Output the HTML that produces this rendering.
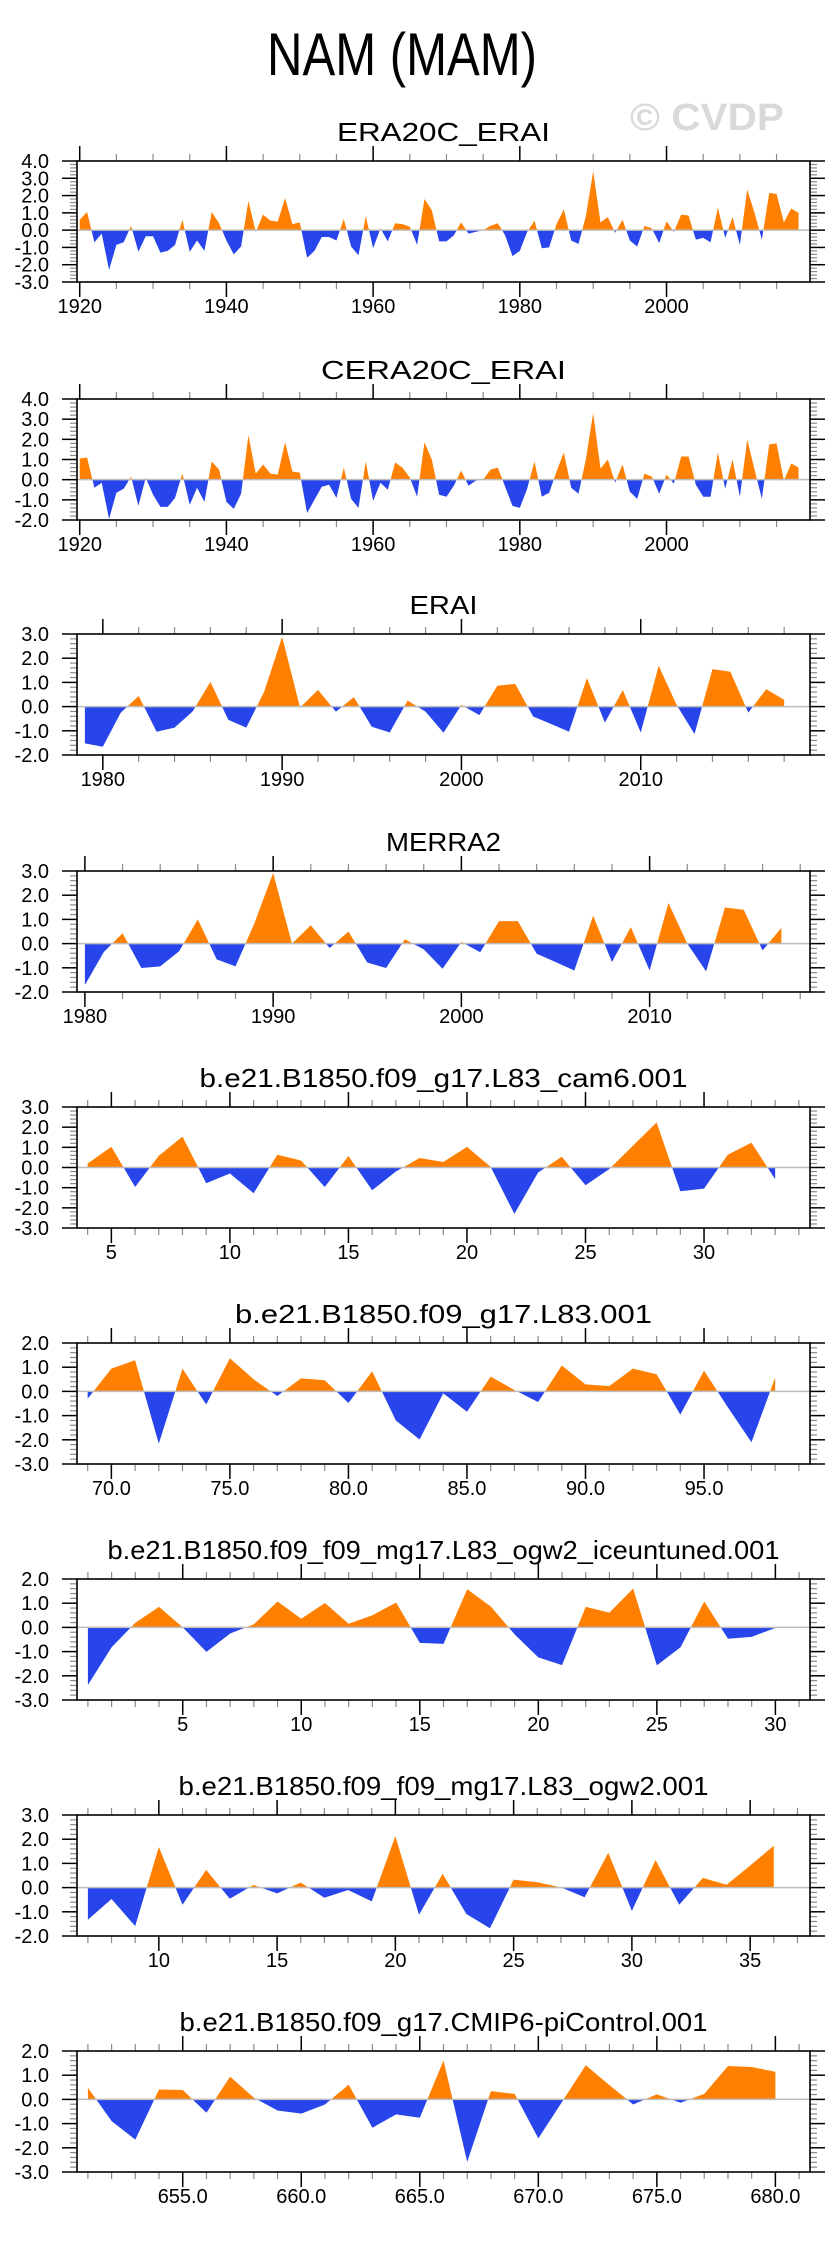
<!DOCTYPE html>
<html><head><meta charset="utf-8"><title>NAM (MAM)</title>
<style>
html,body{margin:0;padding:0;background:#fff;}
svg{display:block;font-family:"Liberation Sans",Arial,sans-serif;}
</style></head>
<body>
<svg id="chart" xmlns="http://www.w3.org/2000/svg" width="829" height="2245" viewBox="0 0 829 2245">
<rect width="829" height="2245" fill="#fff"/>
<text x="402" y="75" font-size="60" text-anchor="middle" textLength="270" lengthAdjust="spacingAndGlyphs" fill="#000">NAM (MAM)</text>
<text x="707" y="130" font-size="38" font-weight="bold" text-anchor="middle" textLength="154" lengthAdjust="spacingAndGlyphs" fill="#d9d9d9">© CVDP</text>
</svg>
<script>
// ---- data ----
const titles = ["ERA20C_ERAI","CERA20C_ERAI","ERAI","MERRA2","b.e21.B1850.f09_g17.L83_cam6.001","b.e21.B1850.f09_g17.L83.001","b.e21.B1850.f09_f09_mg17.L83_ogw2_iceuntuned.001","b.e21.B1850.f09_f09_mg17.L83_ogw2.001","b.e21.B1850.f09_g17.CMIP6-piControl.001"];
const startYears = [1920,1920,1979,1980,4,69,1,7,651];
const p1Values = [0.6,1.05,-0.7,-0.2,-2.3,-0.85,-0.7,0.25,-1.25,-0.35,-0.35,-1.3,-1.2,-0.85,0.6,-1.25,-0.6,-1.2,1.05,0.4,-0.6,-1.4,-0.95,1.7,-0.1,0.9,0.55,0.5,1.85,0.35,0.45,-1.6,-1.2,-0.4,-0.4,-0.6,0.65,-0.95,-1.45,0.8,-1.05,0.1,-0.65,0.4,0.35,0.2,-0.85,1.8,1.15,-0.65,-0.65,-0.3,0.45,-0.2,-0.1,0.0,0.25,0.4,-0.3,-1.5,-1.2,-0.1,0.55,-1.05,-1.0,0.35,1.2,-0.6,-0.8,0.8,3.4,0.45,0.75,-0.15,0.6,-0.6,-0.95,0.25,0.1,-0.75,0.5,-0.1,0.9,0.85,-0.55,-0.45,-0.7,1.3,-0.45,0.75,-0.85,2.35,1.0,-0.55,2.15,2.1,0.45,1.25,1.0];
const p2Values = [1.05,1.1,-0.4,-0.15,-1.95,-0.65,-0.45,0.15,-1.3,0.1,-0.75,-1.35,-1.35,-0.9,0.3,-1.25,-0.4,-1.1,0.9,0.5,-1.1,-1.45,-0.7,2.2,0.3,0.75,0.3,0.25,1.85,0.4,0.35,-1.65,-1.0,-0.35,-0.25,-0.9,0.6,-0.95,-1.4,0.9,-1.05,-0.15,-0.5,0.85,0.6,0.1,-0.85,1.85,1.0,-0.75,-0.85,-0.3,0.45,-0.3,-0.05,0.0,0.5,0.6,-0.35,-1.3,-1.4,-0.45,0.9,-0.85,-0.65,0.4,1.35,-0.4,-0.7,1.0,3.3,0.55,1.0,-0.15,0.75,-0.6,-0.95,0.3,0.15,-0.7,0.25,-0.2,1.15,1.15,-0.25,-0.85,-0.85,1.35,-0.45,1.0,-0.85,2.0,0.5,-0.95,1.75,1.8,-0.05,0.8,0.6];
const p3Values = [-1.52,-1.66,-0.25,0.44,-1.04,-0.87,-0.21,1.02,-0.55,-0.87,0.62,2.88,-0.04,0.69,-0.21,0.39,-0.83,-1.07,0.25,-0.21,-1.08,0.07,-0.35,0.86,0.94,-0.41,-0.72,-1.04,1.18,-0.66,0.68,-1.07,1.69,0.07,-1.13,1.55,1.44,-0.25,0.72,0.28];
const p4Values = [-1.71,-0.35,0.43,-1.01,-0.94,-0.32,1.0,-0.65,-0.94,0.83,2.92,0.0,0.76,-0.18,0.5,-0.78,-1.01,0.18,-0.24,-1.04,0.07,-0.36,0.93,0.93,-0.42,-0.76,-1.11,1.15,-0.76,0.68,-1.11,1.68,0.0,-1.15,1.49,1.4,-0.28,0.65];
const p5Values = [0.2,1.03,-0.97,0.58,1.53,-0.78,-0.3,-1.28,0.63,0.35,-0.97,0.57,-1.13,-0.2,0.47,0.27,1.02,0.03,-2.3,-0.25,0.53,-0.88,-0.08,1.08,2.23,-1.18,-1.05,0.63,1.23,-0.58];
const p6Values = [-0.3,0.94,1.29,-2.16,0.94,-0.54,1.37,0.5,-0.19,0.54,0.46,-0.48,0.83,-1.2,-1.99,-0.08,-0.84,0.61,0.06,-0.44,1.07,0.29,0.22,0.94,0.71,-0.96,0.86,-0.65,-2.1,0.57];
const p7Values = [-2.38,-0.82,0.19,0.85,0.0,-1.01,-0.25,0.13,1.07,0.36,1.01,0.15,0.5,1.03,-0.64,-0.68,1.58,0.86,-0.29,-1.24,-1.56,0.85,0.61,1.61,-1.57,-0.82,1.07,-0.47,-0.39,-0.02];
const p8Values = [-1.33,-0.47,-1.59,1.68,-0.71,0.73,-0.46,0.11,-0.24,0.21,-0.42,-0.1,-0.57,2.12,-1.12,0.57,-1.09,-1.68,0.33,0.22,0.01,-0.4,1.44,-0.96,1.14,-0.71,0.4,0.12,0.91,1.73];
const p9Values = [0.48,-0.9,-1.66,0.41,0.39,-0.55,0.94,0.07,-0.46,-0.59,-0.21,0.61,-1.17,-0.62,-0.76,1.61,-2.58,0.34,0.23,-1.61,-0.1,1.41,0.59,-0.21,0.21,-0.14,0.23,1.38,1.34,1.14];
const xTickValues = [[1920,1940,1960,1980,2000],[1920,1940,1960,1980,2000],[1980,1990,2000,2010],[1980,1990,2000,2010],[5,10,15,20,25,30],[70,75,80,85,90,95],[5,10,15,20,25,30],[10,15,20,25,30,35],[655,660,665,670,675,680]];
const xTickLabels = [["1920","1940","1960","1980","2000"],["1920","1940","1960","1980","2000"],["1980","1990","2000","2010"],["1980","1990","2000","2010"],["5","10","15","20","25","30"],["70.0","75.0","80.0","85.0","90.0","95.0"],["5","10","15","20","25","30"],["10","15","20","25","30","35"],["655.0","660.0","665.0","670.0","675.0","680.0"]];
const yMins = [-3,-2,-2,-2,-3,-3,-3,-2,-3];
const yMaxs = [4,4,3,3,3,2,2,3,2];
const allValues = [p1Values,p2Values,p3Values,p4Values,p5Values,p6Values,p7Values,p8Values,p9Values];

// ---- layout ----
const panelTops = [161,399,634,871,1107,1343,1579,1815,2051];
const titleWidths = [213,245,68,115,488,417,672,530,528];
const xRanges = [[1919.63,2019.56],[1919.63,2019.56],[1978.56,2019.44],[1979.58,2018.52],[3.55,34.47],[68.55,99.47],[0.54,31.46],[6.54,37.53],[650.54,681.46]];
const xMinorSteps = [5,5,2,2,1,1,1,1,1];
const BOX_L = 77, BOX_R = 810, BOX_H = 121;
const ORANGE = "#ff8000", BLUE = "#2745eb";
const NS = "http://www.w3.org/2000/svg";
const svg = document.getElementById("chart");

function mk(tag, attrs, parent) {
  const e = document.createElementNS(NS, tag);
  for (const k in attrs) e.setAttribute(k, attrs[k]);
  (parent || svg).appendChild(e);
  return e;
}

function drawPanel(i) {
  const top = panelTops[i], bot = top + BOX_H;
  const xr = xRanges[i], ymin = yMins[i], ymax = yMaxs[i];
  const vals = allValues[i], start = startYears[i];
  const xs = v => BOX_L + (v - xr[0]) / (xr[1] - xr[0]) * (BOX_R - BOX_L);
  const ys = v => top + (ymax - v) / (ymax - ymin) * BOX_H;

  const g = mk("g", {});
  
  

  const t = mk("text", {x: (BOX_L + BOX_R) / 2, y: top - 20, "font-size": 26, "text-anchor": "middle", textLength: titleWidths[i], lengthAdjust: "spacingAndGlyphs", fill: "#000"}, g);
  t.textContent = titles[i];
  
  

  const pts = [];
  for (let k = 0; k < vals.length; k++) {
    const x = start + k, v = vals[k];
    if (k > 0) {
      const pv = vals[k - 1];
      if ((pv > 0 && v < 0) || (pv < 0 && v > 0)) {
        const f = pv / (pv - v);
        pts.push([x - 1 + f, 0]);
      }
    }
    pts.push([x, v]);
  }
  const x0 = xs(pts[0][0]), xn = xs(pts[pts.length - 1][0]), y0 = ys(0);
  let dPos = "M" + x0 + "," + y0, dNeg = "M" + x0 + "," + y0;
  for (const p of pts) {
    dPos += " L" + xs(p[0]).toFixed(2) + "," + ys(Math.max(p[1], 0)).toFixed(2);
    dNeg += " L" + xs(p[0]).toFixed(2) + "," + ys(Math.min(p[1], 0)).toFixed(2);
  }
  dPos += " L" + xn + "," + y0 + " Z";
  dNeg += " L" + xn + "," + y0 + " Z";
  const pp = mk("path", {d: dPos, fill: ORANGE}, g);
  
  
  const pn = mk("path", {d: dNeg, fill: BLUE}, g);
  
  

  const zl = mk("line", {x1: BOX_L, x2: BOX_R, y1: y0, y2: y0, stroke: "#bdbdbd", "stroke-width": 1.5}, g);
  
  

  for (let v = ymin; v <= ymax + 1e-6; v += 0.2) {
    const r = Math.round(v * 10) / 10;
    const major = Math.abs(r - Math.round(r)) < 1e-6;
    const y = ys(r);
    const len = major ? 15 : 7, col = major ? "#000" : "#8a8a8a";
    mk("line", {x1: BOX_L - len, x2: BOX_L, y1: y, y2: y, stroke: col, "stroke-width": major ? 1.5 : 1.2}, g);
    mk("line", {x1: BOX_R, x2: BOX_R + len, y1: y, y2: y, stroke: col, "stroke-width": major ? 1.5 : 1.2}, g);
    if (major) {
      const lb = mk("text", {x: 49, y: y + 7, "font-size": 20, "text-anchor": "end", fill: "#000"}, g);
      lb.textContent = r.toFixed(1);
      
      
    }
  }
  const ms = xMinorSteps[i];
  for (let v = Math.ceil(xr[0] / ms) * ms; v <= xr[1]; v += ms) {
    const x = xs(v);
    mk("line", {x1: x, x2: x, y1: top - 7, y2: top, stroke: "#8a8a8a", "stroke-width": 1.2}, g);
    mk("line", {x1: x, x2: x, y1: bot, y2: bot + 7, stroke: "#8a8a8a", "stroke-width": 1.2}, g);
  }
  const tv = xTickValues[i], tl = xTickLabels[i];
  for (let k = 0; k < tv.length; k++) {
    const x = xs(tv[k]);
    mk("line", {x1: x, x2: x, y1: top - 15, y2: top, stroke: "#000", "stroke-width": 1.5}, g);
    mk("line", {x1: x, x2: x, y1: bot, y2: bot + 15, stroke: "#000", "stroke-width": 1.5}, g);
    const lb = mk("text", {x: x, y: bot + 31, "font-size": 20, "text-anchor": "middle", fill: "#000"}, g);
    lb.textContent = tl[k];
    
    
  }
  const box = mk("rect", {x: BOX_L, y: top, width: BOX_R - BOX_L, height: BOX_H, fill: "none", stroke: "#000", "stroke-width": 1.6}, g);
  
  
}
for (let i = 0; i < titles.length; i++) drawPanel(i);
</script>
</body></html>
